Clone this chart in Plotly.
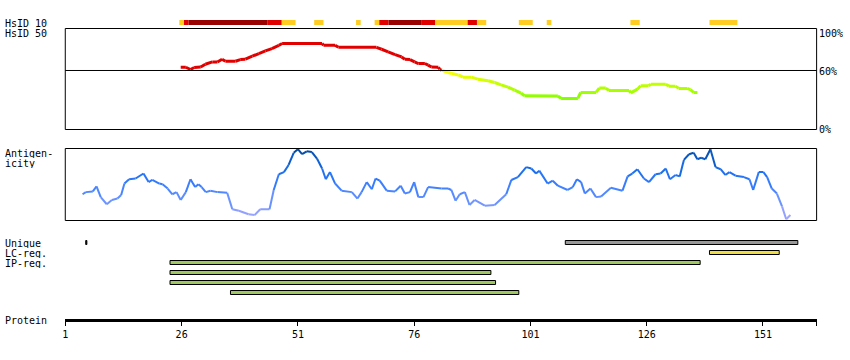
import plotly.graph_objects as go

# ---------------- data ----------------
tick_vals = [1, 26, 51, 76, 101, 126, 151]
seq_end = 162.5

# HsID 10 strip: residue ranges and identity level
hsid10_start = [26, 27, 28, 45, 48, 55, 64, 68, 69, 71, 78, 81, 88, 90, 99, 105, 123, 140]
hsid10_end = [26, 27, 44, 47, 50, 56, 64, 68, 70, 77, 80, 87, 89, 91, 101, 105, 124, 145]
hsid10_level = ["low", "mid", "high", "mid", "low", "low", "low", "low", "mid", "high",
                "mid", "low", "mid", "low", "low", "low", "low", "low"]

# HsID 50 curve (% identity)
hsid50_pos = [25.8, 26.9, 27.9, 28.7, 30.1, 31.1, 32.6, 33.7, 34.7, 35.4, 37.6, 38.6, 39.7,
              41.2, 42.6, 44.0, 45.4, 46.9, 47.6, 56.2, 56.5, 59.0, 59.7, 67.9, 69.0, 70.4,
              71.9, 73.3, 74.0, 75.1, 76.1, 76.9, 78.3, 79.0, 79.7, 81.2, 81.5, 81.9, 83.3,
              84.1, 85.5, 86.5, 88.3, 89.7, 91.9, 93.3, 94.7, 96.2, 97.6, 99.0, 99.7, 106.9,
              107.6, 111.2, 111.8, 115.1, 115.8, 117.2, 117.9, 122.2, 122.6, 124.0, 124.7,
              126.4, 126.9, 130.1, 130.8, 132.2, 132.9, 134.7, 135.4, 136.1, 136.9]
hsid50_val = [63.3, 63.3, 61.0, 63.0, 63.6, 66.4, 68.7, 68.7, 71.5, 69.4, 69.4, 71.1, 71.5,
              74.5, 77.2, 79.9, 82.3, 85.6, 87.4, 87.4, 85.6, 85.6, 83.6, 83.6, 81.6, 78.9,
              76.2, 73.8, 71.5, 71.1, 68.7, 67.1, 67.1, 65.4, 63.6, 63.3, 61.3, 60.3, 58.0,
              57.0, 55.5, 53.2, 53.2, 51.2, 49.5, 47.8, 45.4, 43.1, 40.0, 37.0, 34.3, 34.0,
              31.6, 31.6, 37.7, 37.7, 42.1, 42.1, 39.7, 39.7, 37.3, 41.0, 44.4, 44.4, 46.1,
              46.1, 44.1, 44.1, 41.8, 41.8, 40.5, 37.7, 37.7]

# Antigenicity curve (relative score 0..1)
antigen_pos = [4.7, 5.4, 6.9, 7.7, 8.6, 9.9, 11.0, 12.2, 13.0, 13.7, 14.7, 16.1, 17.8, 18.9,
               19.7, 21.2, 21.9, 23.0, 24.0, 24.9, 25.8, 26.9, 27.9, 28.9, 29.6, 30.3, 31.2,
               32.2, 33.7, 35.8, 36.9, 38.3, 40.4, 41.7, 42.9, 44.9, 45.8, 46.9, 48.0, 49.0,
               50.1, 51.0, 51.9, 52.9, 54.0, 55.1, 56.2, 57.0, 57.9, 59.0, 60.4, 62.6, 63.8,
               64.7, 65.8, 66.9, 67.7, 68.6, 70.1, 71.9, 73.1, 74.0, 75.1, 76.0, 76.9, 78.0,
               79.0, 81.9, 83.3, 84.0, 84.9, 85.8, 86.9, 87.9, 89.0, 91.2, 93.3, 95.8, 96.9,
               98.3, 100.1, 101.2, 102.2, 102.9, 104.7, 105.8, 106.9, 109.0, 110.1, 111.0,
               111.9, 112.7, 113.9, 115.1, 116.2, 118.3, 120.8, 121.9, 122.9, 124.0, 125.4,
               126.5, 127.9, 129.0, 130.1, 131.0, 132.2, 133.1, 134.0, 135.1, 136.1, 136.9,
               137.7, 138.6, 139.7, 140.8, 141.9, 142.9, 143.8, 145.1, 146.9, 148.1, 148.9,
               150.1, 151.1, 151.9, 152.9, 154.0, 155.1, 156.0, 156.9]
antigen_val = [0.36, 0.39, 0.40, 0.47, 0.32, 0.22, 0.28, 0.30, 0.35, 0.51, 0.57, 0.58, 0.65,
               0.53, 0.56, 0.51, 0.50, 0.44, 0.36, 0.39, 0.28, 0.39, 0.57, 0.46, 0.50, 0.46,
               0.39, 0.41, 0.39, 0.38, 0.15, 0.13, 0.08, 0.07, 0.15, 0.15, 0.42, 0.64, 0.67,
               0.77, 0.94, 0.99, 0.92, 0.96, 0.95, 0.86, 0.72, 0.57, 0.67, 0.51, 0.41, 0.39,
               0.30, 0.39, 0.53, 0.43, 0.58, 0.55, 0.41, 0.40, 0.48, 0.37, 0.39, 0.53, 0.32,
               0.32, 0.46, 0.44, 0.44, 0.42, 0.27, 0.36, 0.39, 0.21, 0.28, 0.20, 0.21, 0.36,
               0.56, 0.60, 0.74, 0.72, 0.65, 0.69, 0.51, 0.55, 0.48, 0.42, 0.46, 0.57, 0.53,
               0.37, 0.44, 0.32, 0.33, 0.45, 0.41, 0.61, 0.65, 0.71, 0.58, 0.53, 0.64, 0.65,
               0.72, 0.57, 0.63, 0.61, 0.84, 0.92, 0.94, 0.85, 0.87, 0.85, 0.99, 0.74, 0.71,
               0.63, 0.67, 0.62, 0.60, 0.57, 0.42, 0.67, 0.67, 0.60, 0.44, 0.37, 0.19, 0.01,
               0.07]

# Feature tracks (residue start / end)
unique_start = [6, 109]
unique_end = [5, 158]
lc_start = [140]
lc_end = [154]
ip_start = [24, 24, 24, 37]
ip_end = [137, 92, 93, 98]

# ---------------- styling helpers ----------------
W, H = 850, 360
FONT = "DejaVu Sans Mono"


def py(px):
    return 1 - px / H


def px_x(px):
    return px / W


def lerp(c0, c1, t):
    return tuple(c0[i] + (c1[i] - c0[i]) * t for i in range(3))


def ident_color(v):
    if v >= 60:
        return "rgb(224,0,0)"
    t = max(0.0, min(1.0, v / 60.0))
    return "rgb(%d,255,0)" % round(255 * t)


ANT_STOPS = [(0.0, (170, 170, 255)), (0.3, (100, 145, 255)), (0.5, (55, 125, 255)),
             (0.7, (25, 110, 235)), (0.88, (10, 88, 195)), (1.0, (0, 70, 150))]


def antigen_color(a):
    for (a0, c0), (a1, c1) in zip(ANT_STOPS[:-1], ANT_STOPS[1:]):
        if a <= a1:
            t = (a - a0) / (a1 - a0)
            c = lerp(c0, c1, max(0.0, min(1.0, t)))
            return "rgb(%d,%d,%d)" % tuple(round(x) for x in c)
    return "rgb(0,70,150)"


fig = go.Figure()

# HsID 50 line, coloured by identity
for i in range(len(hsid50_pos) - 1):
    v0, v1 = hsid50_val[i], hsid50_val[i + 1]
    col = ident_color(min(v0, v1) if min(v0, v1) >= 60 else (v0 + v1) / 2)
    fig.add_trace(go.Scatter(x=hsid50_pos[i:i + 2], y=hsid50_val[i:i + 2], mode="lines",
                             line=dict(color=col, width=3), xaxis="x", yaxis="y",
                             hoverinfo="skip", showlegend=False))

# Antigenicity line
for i in range(len(antigen_pos) - 1):
    a = (antigen_val[i] + antigen_val[i + 1]) / 2
    fig.add_trace(go.Scatter(x=antigen_pos[i:i + 2], y=antigen_val[i:i + 2], mode="lines",
                             line=dict(color=antigen_color(a), width=2), xaxis="x", yaxis="y2",
                             hoverinfo="skip", showlegend=False))

# HsID 10 strip
LEVEL_COL = {"low": "#FFCC22", "mid": "#E00000", "high": "#990000"}
for lev in ["low", "mid", "high"]:
    s = [hsid10_start[i] - 0.5 for i in range(len(hsid10_start)) if hsid10_level[i] == lev]
    e = [hsid10_end[i] + 0.5 for i in range(len(hsid10_start)) if hsid10_level[i] == lev]
    fig.add_trace(go.Bar(orientation="h", y=[22.5] * len(s), x=[b - a for a, b in zip(s, e)],
                         base=s, width=5, marker=dict(color=LEVEL_COL[lev], line=dict(width=0)),
                         xaxis="x", yaxis="y3", hoverinfo="skip", showlegend=False))


def add_track(starts, ends, rows, color):
    x0s, lens = [], []
    for s, e in zip(starts, ends):
        a, b = s - 0.5, e + 0.5
        if b - a < 0.25:
            m = (a + b) / 2
            a, b = m - 0.12, m + 0.12
        x0s.append(a)
        lens.append(b - a)
    fig.add_trace(go.Bar(orientation="h", y=rows, x=lens, base=x0s, width=4,
                         marker=dict(color=color, line=dict(color="black", width=1)),
                         xaxis="x", yaxis="y3", hoverinfo="skip", showlegend=False))


add_track(unique_start[:1], unique_end[:1], [242.5], "black")
add_track(unique_start[1:], unique_end[1:], [242.5], "#999999")
add_track(lc_start, lc_end, [252.5], "#EEDD44")
add_track(ip_start, ip_end, [262.5, 272.5, 282.5, 292.5][:len(ip_start)], "#A0C860")

# Panel boxes and the 60 % line
shapes = [
    dict(type="rect", xref="paper", yref="paper", x0=px_x(62.5), x1=px_x(816.5),
         y0=py(129.5), y1=py(28.5), line=dict(color="black", width=1)),
    dict(type="line", xref="paper", yref="y", x0=px_x(62.5), x1=px_x(816.5), y0=60, y1=60,
         line=dict(color="black", width=1)),
    dict(type="rect", xref="paper", yref="paper", x0=px_x(62.5), x1=px_x(816.5),
         y0=py(220.5), y1=py(148.5), line=dict(color="black", width=1)),
]

ann = []


def label(txt, xpx, ypx, anchor="left"):
    ann.append(dict(text=txt, x=px_x(xpx), y=py(ypx), xref="paper", yref="paper",
                    xanchor=anchor, yanchor="middle", showarrow=False, height=10,
                    borderpad=0, font=dict(family=FONT, size=10, color="black")))


label("HsID 10", 1, 23)
label("HsID 50", 1, 33)
label("Antigen-", 1, 153)
label("icity", 1, 163)
label("Unique", 1, 243)
label("LC-reg.", 1, 253)
label("IP-reg.", 1, 263)
label("Protein", 1, 320)
label("100%", 818, 33)
label("60%", 818, 71)
label("0%", 818, 129)

noax = dict(visible=False, showgrid=False, zeroline=False, fixedrange=True)
fig.update_layout(
    width=W, height=H, margin=dict(l=0, r=0, t=0, b=0),
    paper_bgcolor="white", plot_bgcolor="rgba(0,0,0,0)", showlegend=False,
    barmode="overlay",
    xaxis=dict(domain=[px_x(62.5), px_x(816.5)], range=[0.98, 162.54], anchor="free",
               position=py(319.5), showline=True, linecolor="black", linewidth=3,
               ticks="outside", ticklen=4, tickwidth=1, tickcolor="black",
               tickvals=tick_vals + [seq_end], ticktext=[str(t) for t in tick_vals] + [""],
               tickfont=dict(family=FONT, size=10, color="black"),
               showgrid=False, zeroline=False, fixedrange=True),
    yaxis=dict(domain=[py(129.5), py(28.5)], range=[0, 102.7], anchor="x", **noax),
    yaxis2=dict(domain=[py(220), py(148.5)], range=[0, 1], anchor="x", **noax),
    yaxis3=dict(domain=[0, 1], range=[H, 0], anchor="x", **noax),
    shapes=shapes, annotations=ann,
)

fig.write_html("out.html", config={"displayModeBar": False},
               post_script="document.body.style.margin='0';document.body.style.padding='0';")
